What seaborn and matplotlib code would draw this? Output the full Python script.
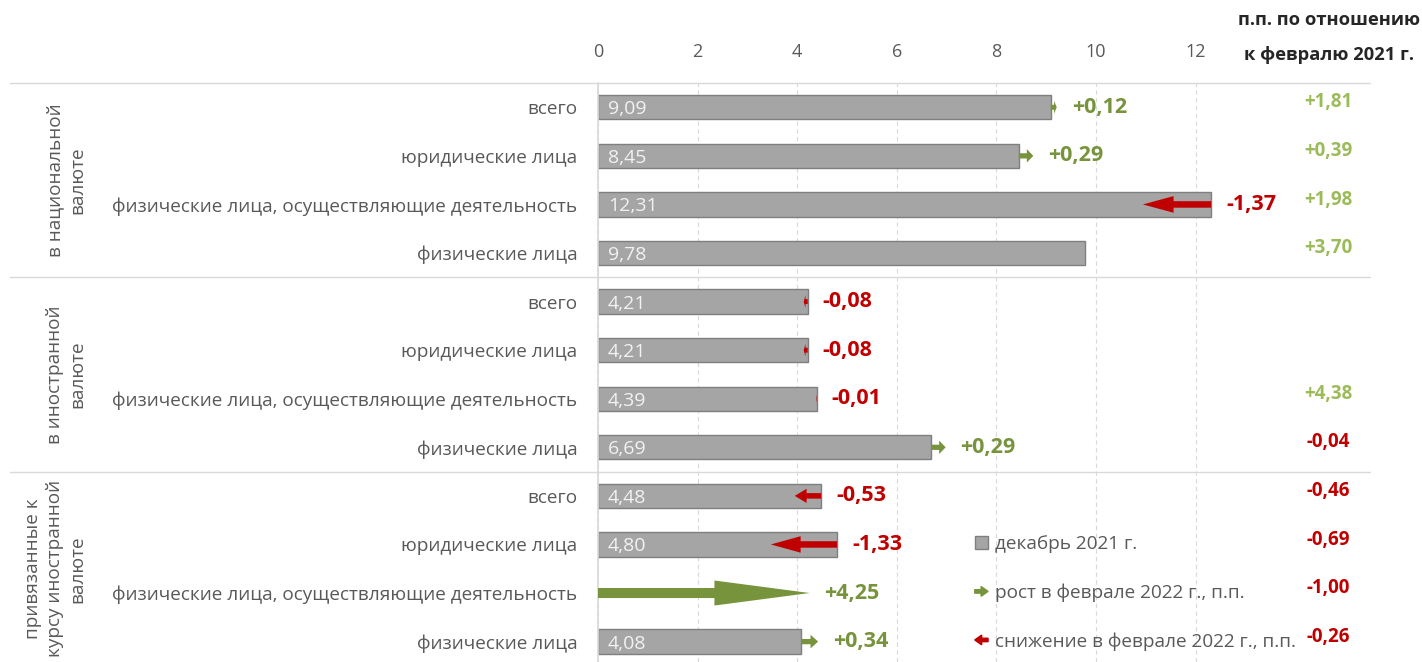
import numpy as np
import pandas as pd
import seaborn as sns
import matplotlib.pyplot as plt
from matplotlib.patches import Patch, FancyArrow
from matplotlib.legend_handler import HandlerPatch

groups = ['в национальной\nвалюте', 'в иностранной\nвалюте', 'привязанные к\nкурсу иностранной\nвалюте']
categories = ['всего', 'юридические лица', 'физические лица, осуществляющие деятельность', 'физические лица',
              'всего', 'юридические лица', 'физические лица, осуществляющие деятельность', 'физические лица',
              'всего', 'юридические лица', 'физические лица, осуществляющие деятельность', 'физические лица']
dec_2021 = [9.09, 8.45, 12.31, 9.78, 4.21, 4.21, 4.39, 6.69, 4.48, 4.80, np.nan, 4.08]
feb_change = [0.12, 0.29, -1.37, np.nan, -0.08, -0.08, -0.01, 0.29, -0.53, -1.33, 4.25, 0.34]
yoy_change = [1.81, 0.39, 1.98, 3.70, np.nan, np.nan, 4.38, -0.04, -0.46, -0.69, -1.00, -0.26]
x_ticks = [0, 2, 4, 6, 8, 10, 12]

sns.set_theme(style="white")
plt.rcParams['font.family'] = ['Open Sans', 'DejaVu Sans']

bar_color = "#a5a5a5"
green = "#77933c"
light_green = "#9bbb59"
red = "#c00000"
txt = "#595959"

def fmt(v):
    return ("%+.2f" % v).replace('.', ',')

df = pd.DataFrame({'pos': np.arange(len(categories)), 'dec': dec_2021,
                   'chg': feb_change, 'yoy': yoy_change})

fig = plt.figure(figsize=(14.22, 6.62), dpi=100)
ax = fig.add_axes([598 / 1422, 0, 772 / 1422, 1 - 83 / 662])

sns.barplot(data=df, x='dec', y='pos', orient='y', native_scale=True, width=0.5,
            color=bar_color, edgecolor="#7f7f7f", linewidth=1, saturation=1,
            errorbar=None, ax=ax, zorder=2)

ax.set_xlim(0, 15.5)
ax.set_ylim(11.42, -0.5)
ax.set_xticks(x_ticks)
ax.xaxis.tick_top()
ax.tick_params(axis='x', length=0, pad=16, labelsize=13, colors=txt)
ax.set_yticks(df['pos'])
ax.set_yticklabels(categories)
ax.tick_params(axis='y', length=0, pad=15, labelsize=13.7, colors=txt)
ax.set_xlabel('')
ax.set_ylabel('')
ax.grid(axis='x', color="#d9d9d9", linestyle=(0, (4, 3)), linewidth=0.8, zorder=0)
for s in ['top', 'right', 'bottom']:
    ax.spines[s].set_visible(False)
ax.spines['left'].set_color("#d9d9d9")

# arrows for the February change
for _, r in df.iterrows():
    if np.isnan(r['chg']):
        continue
    start = 0 if np.isnan(r['dec']) else r['dec']
    d = r['chg']
    c = green if d > 0 else red
    L = abs(d)
    ax.add_patch(FancyArrow(start, r['pos'], d, 0, width=0.1 + 0.025 * L,
                            head_width=0.26 + 0.06 * L, head_length=0.45 * L,
                            length_includes_head=True, color=c, lw=0, zorder=3))
    ax.text(max(start, start + d) + 0.3, r['pos'], fmt(d), color=c, fontsize=15.5,
            fontweight='bold', va='center', ha='left')

# bar value labels
for _, r in df.iterrows():
    if not np.isnan(r['dec']):
        ax.text(0.2, r['pos'], ("%.2f" % r['dec']).replace('.', ','), color="#f2f2f2",
                fontsize=14, va='center_baseline', ha='left', zorder=4)

# right column
for _, r in df.iterrows():
    if not np.isnan(r['yoy']):
        ax.text((1329 - 598) / 49.83, r['pos'] - 0.1, fmt(r['yoy']),
                color=light_green if r['yoy'] > 0 else red,
                fontsize=13.5, fontweight='bold', va='center', ha='center')
fig.text(1329 / 1422, 1 - 20 / 662, 'п.п. по отношению', ha='center', va='center',
         fontsize=13.2, fontweight='bold', color="#262626")
fig.text(1329 / 1422, 1 - 55 / 662, 'к февралю 2021 г.', ha='center', va='center',
         fontsize=13.2, fontweight='bold', color="#262626")

# group separators and labels
for y in [-0.5, 3.5, 7.5]:
    ax.axhline(y, xmin=-588 / 772, xmax=1, color="#d9d9d9", lw=1, clip_on=False, zorder=1)
for i, g in enumerate(groups):
    ax.text(-512 / 49.83, 4 * i + 1.5, g, rotation=90, ha='right', va='center',
            multialignment='center', fontsize=13.7, color=txt, linespacing=1.3)


# legend
def arrow_right(legend, orig_handle, xdescent, ydescent, width, height, fontsize):
    return FancyArrow(0, height / 2, width, 0, width=2.5, head_width=7, head_length=5,
                      length_includes_head=True)


def arrow_left(legend, orig_handle, xdescent, ydescent, width, height, fontsize):
    return FancyArrow(width, height / 2, -width, 0, width=2.5, head_width=7, head_length=5,
                      length_includes_head=True)


h_bar = Patch(facecolor=bar_color, edgecolor="#7f7f7f")
h_up = Patch(color=green)
h_down = Patch(color=red)
ax.legend([h_bar, h_up, h_down],
          ['декабрь 2021 г.', 'рост в феврале 2022 г., п.п.', 'снижение в феврале 2022 г., п.п.'],
          handler_map={h_up: HandlerPatch(patch_func=arrow_right),
                       h_down: HandlerPatch(patch_func=arrow_left)},
          loc='upper left', bbox_to_anchor=(0.488, 0.2185), frameon=False, fontsize=13.7,
          labelcolor=txt, handlelength=0.7, handleheight=0.7, handletextpad=0.35,
          labelspacing=1.58, borderpad=0, borderaxespad=0)

plt.savefig("out.png", dpi=100)
